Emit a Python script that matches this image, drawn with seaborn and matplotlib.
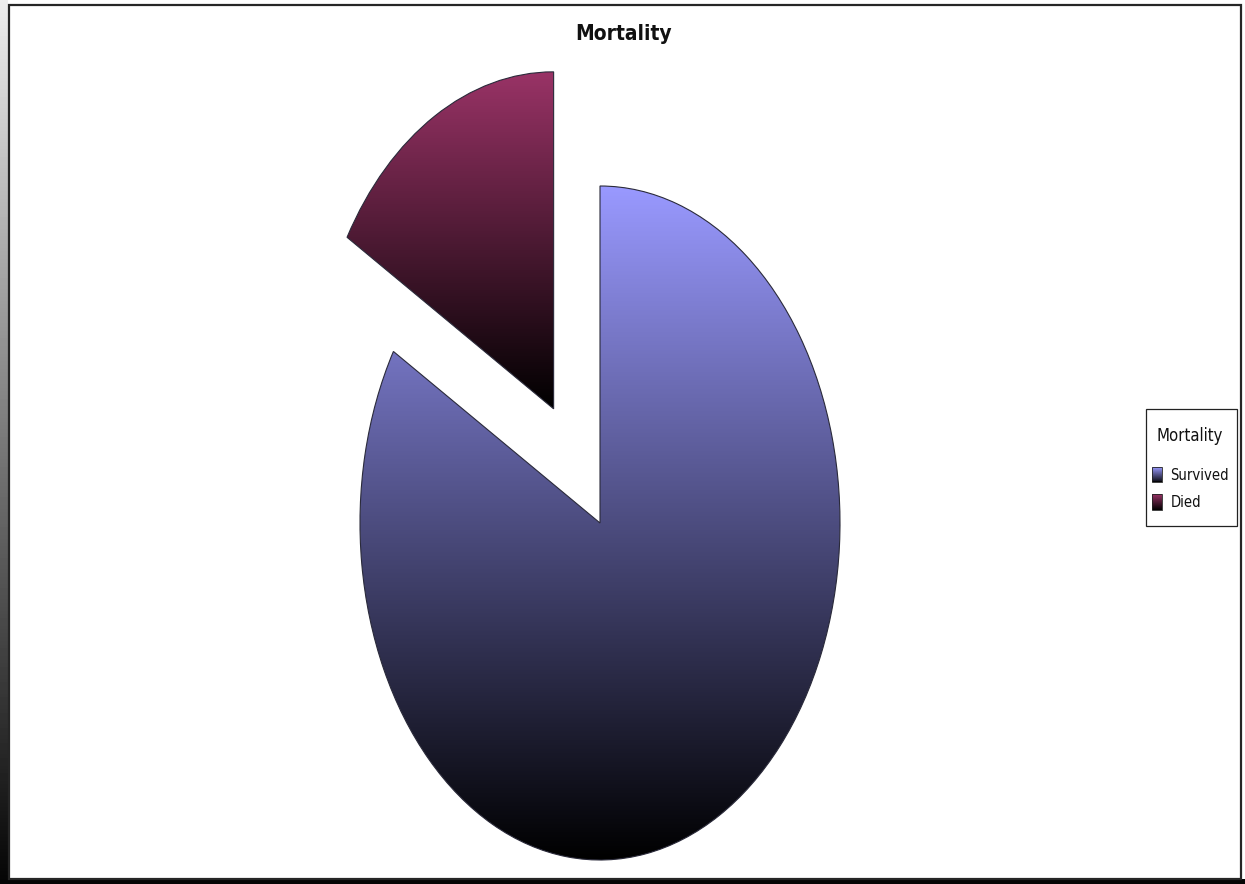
import numpy as np
import matplotlib
matplotlib.use("Agg")
import matplotlib.pyplot as plt
import seaborn as sns
from matplotlib import font_manager as fm
from matplotlib.colors import LinearSegmentedColormap, to_rgb
from matplotlib.patches import Rectangle
from matplotlib.legend_handler import HandlerBase

# Mortality shares (percent)
categories = ["Survived", "Died"]
values = [83.5, 16.5]
explode = [0.0, 0.39]
top_colors = ["#9999ff", "#993366"]
chart_title = "Mortality"
legend_title = "Mortality"

sns.set_theme(style="white")
plt.rcParams["font.family"] = ["Liberation Sans", "DejaVu Sans"]


def narrow_font(bold=False):
    """Return a condensed sans font if one is installed, else None."""
    cands = []
    for f in fm.fontManager.ttflist:
        nm = f.name.lower()
        fn = f.fname.lower()
        narrow = ("narrow" in nm or "condensed" in nm
                  or str(f.stretch) in ("condensed", "semi-condensed", "extra-condensed")
                  or "condensed" in fn or "narrow" in fn)
        if not narrow or "mono" in nm or ("serif" in nm and "sans" not in nm):
            continue
        if "oblique" in fn or "italic" in fn:
            continue
        isbold = f.weight in ("bold", 700) or str(f.weight) == "700"
        if isbold == bold:
            cands.append(f)
    if not cands:
        return None
    cands.sort(key=lambda f: (0 if "liberation" in f.name.lower() else 1, f.fname))
    return fm.FontProperties(fname=cands[0].fname)


fp_bold = narrow_font(True)
fp_reg = narrow_font(False)

W, H = 1245, 884
fig = plt.figure(figsize=(W / 100, H / 100), dpi=100)
fig.patch.set_facecolor("white")

# Pie axes: one data unit = 240 px horizontally, 337 px vertically (stretched pie)
cx, cy = 600, H - 523
rx, ry = 240, 337
ax = fig.add_axes([0, 0, 1, 1])
ax.axis("off")

wedges, _ = ax.pie(values, startangle=90, counterclock=False, explode=explode,
                   wedgeprops=dict(linewidth=0.8, edgecolor="#2a2a3a"), radius=1.0)


def vertical_gradient(top):
    return LinearSegmentedColormap.from_list("g", [(0, 0, 0), to_rgb(top)])


grad = np.linspace(0, 1, 256).reshape(-1, 1)
for w, top in zip(wedges, top_colors):
    w.set_facecolor("none")
    ext = w.get_path().get_extents()
    im = ax.imshow(grad, cmap=vertical_gradient(top), origin="lower", aspect="auto",
                   extent=[ext.x0, ext.x1, ext.y0, ext.y1], zorder=1, interpolation="bilinear")
    im.set_clip_path(w)
    w.set_zorder(2)
ax.set_aspect("auto")
ax.set_xlim(-cx / rx, (W - cx) / rx)
ax.set_ylim(-cy / ry, (H - cy) / ry)

title_kw = dict(fontproperties=fp_bold) if fp_bold else dict(fontweight="bold")
t = fig.text(624 / W, 1 - 34 / H, chart_title, ha="center", va="center",
             color="#111111", **title_kw)
t.set_fontsize(15)


class GradientHandler(HandlerBase):
    def __init__(self, top, n=16):
        super().__init__()
        self.top = to_rgb(top)
        self.n = n

    def create_artists(self, legend, orig_handle, xdescent, ydescent, width, height, fontsize, trans):
        arts = []
        x0, y0 = -xdescent, -ydescent
        for i in range(self.n):
            f = (i + 0.5) / self.n
            c = tuple(f * v for v in self.top)
            arts.append(Rectangle((x0, y0 + height * i / self.n), width, height / self.n + 0.05,
                                  facecolor=c, edgecolor="none", transform=trans))
        arts.append(Rectangle((x0, y0), width, height, facecolor="none",
                              edgecolor="#222222", linewidth=0.6, transform=trans))
        return arts


# Legend frame and title
fig.patches.append(Rectangle((1146 / W, 1 - 526 / H), 91 / W, 117 / H, transform=fig.transFigure,
                             facecolor="white", edgecolor="#222222", linewidth=0.9, zorder=3))
lt_kw = dict(fontproperties=fp_reg) if fp_reg else {}
lt = fig.text(1190 / W, 1 - 436 / H, legend_title, ha="center", va="center",
              color="#111111", zorder=4, **lt_kw)
lt.set_fontsize(12)

handles = [Rectangle((0, 0), 1, 1) for _ in categories]
leg_fs = 10.6
px = leg_fs * 100 / 72
leg = fig.legend(handles, categories, loc="center left",
                 bbox_to_anchor=(1152 / W, 1 - 488.5 / H),
                 handler_map={h: GradientHandler(c) for h, c in zip(handles, top_colors)},
                 prop=(fm.FontProperties(fname=fp_reg.get_file(), size=leg_fs) if fp_reg
                       else fm.FontProperties(family=["Liberation Sans"], size=leg_fs)),
                 frameon=False, handlelength=9.5 / px, handleheight=18 / px,
                 handletextpad=9 / px, labelspacing=11.5 / px, borderpad=0, borderaxespad=0)
leg.set_zorder(5)
for txt in leg.get_texts():
    txt.set_color("#111111")

# Page frame: thin border with a darker shadow along the bottom and left
frame_ax = fig.add_axes([0, 0, 1, 1], zorder=-1)
frame_ax.axis("off")
shade = np.linspace(0.93, 0.02, 256).reshape(-1, 1)
frame_ax.imshow(shade, cmap="gray", vmin=0, vmax=1, aspect="auto",
                extent=[0, 8, H, 0], interpolation="bilinear")
frame_ax.add_patch(Rectangle((0, 879), W, 5, facecolor="#050505", edgecolor="none"))
frame_ax.add_patch(Rectangle((9, 5), 1232, 874, facecolor="none",
                             edgecolor="#262626", linewidth=1.6))
frame_ax.set_xlim(0, W)
frame_ax.set_ylim(H, 0)

fig.savefig("out.png", dpi=100, facecolor="white")
